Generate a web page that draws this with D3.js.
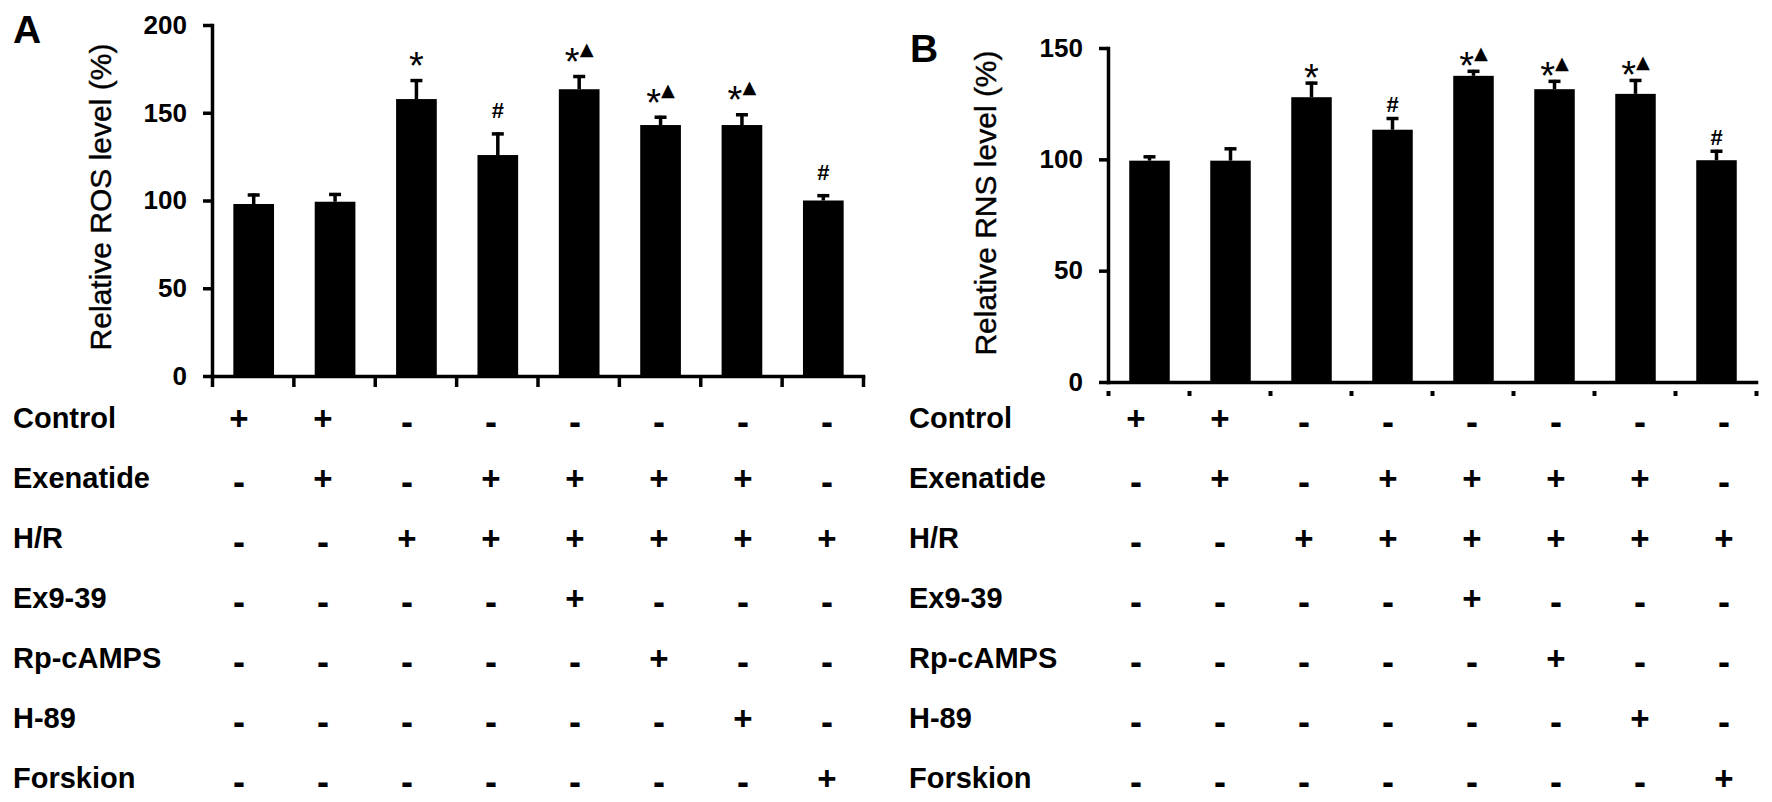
<!DOCTYPE html>
<html>
<head>
<meta charset="utf-8">
<script src="https://cdn.jsdelivr.net/npm/d3@7/dist/d3.min.js"></script>
<style>
  body { margin: 0; background: #fff; }
  svg { display: block; font-family: "Liberation Sans", Arial, sans-serif; }
</style>
</head>
<body>
<svg id="chart" width="1772" height="802"></svg>
<script>
// groups 1..8, treatment design shared by both panels
const groups = ["g1", "g2", "g3", "g4", "g5", "g6", "g7", "g8"];
const treatments = ["Control", "Exenatide", "H/R", "Ex9-39", "Rp-cAMPS", "H-89", "Forskion"];
const design = [
  ["+", "+", "-", "-", "-", "-", "-", "-"],
  ["-", "+", "-", "+", "+", "+", "+", "-"],
  ["-", "-", "+", "+", "+", "+", "+", "+"],
  ["-", "-", "-", "-", "+", "-", "-", "-"],
  ["-", "-", "-", "-", "-", "+", "-", "-"],
  ["-", "-", "-", "-", "-", "-", "+", "-"],
  ["-", "-", "-", "-", "-", "-", "-", "+"]
];

// panel A: ROS
const rosMean = [98, 99.3, 157.8, 125.9, 163.4, 143, 143, 100];
const rosErr = [6, 5, 11.4, 12.9, 8.1, 5.3, 6.7, 3.6];
const rosMarks = ["", "", "*", "#", "*▲", "*▲", "*▲", "#"];
const rosTicks = [0, 50, 100, 150, 200];

// panel B: RNS
const rnsMean = [99.4, 99.4, 127.9, 113.3, 137.5, 131.5, 129.4, 99.6];
const rnsErr = [2.4, 6, 7, 5.7, 2.7, 4.2, 6.7, 4.7];
const rnsMarks = ["", "", "*", "#", "*▲", "*▲", "*▲", "#"];
const rnsTicks = [0, 50, 100, 150];

const svg = d3.select("#chart");

const panels = [
  {
    letter: "A", letterX: 13, letterY: 43,
    title: "Relative ROS level (%)", titleX: 100, titleY: 197,
    left: 212, right: 863, top: 25, bottom: 376,
    mean: rosMean, err: rosErr, marks: rosMarks, ticks: rosTicks,
    markGap: 22, xTickStyle: "line",
    labelX: 13, tableLeft: 239, tableRight: 827
  },
  {
    letter: "B", letterX: 910, letterY: 62,
    title: "Relative RNS level (%)", titleX: 985, titleY: 203,
    left: 1108, right: 1756, top: 48, bottom: 382,
    mean: rnsMean, err: rnsErr, marks: rnsMarks, ticks: rnsTicks,
    markGap: 13, xTickStyle: "dot",
    labelX: 909, tableLeft: 1136, tableRight: 1724
  }
];

const rowY = d3.scalePoint().domain(treatments).range([418, 778]);

function drawPanel(p) {
  const g = svg.append("g");

  const x = d3.scaleBand()
    .domain(groups)
    .range([p.left, p.right])
    .paddingInner(0.5)
    .paddingOuter(0.25);

  const y = d3.scaleLinear()
    .domain([0, d3.max(p.ticks)])
    .range([p.bottom, p.top]);

  // bars
  g.selectAll("rect.bar")
    .data(groups)
    .join("rect")
    .attr("class", "bar")
    .attr("x", d => x(d) + 1)
    .attr("width", x.bandwidth())
    .attr("y", (d, i) => y(p.mean[i]))
    .attr("height", (d, i) => y(0) - y(p.mean[i]))
    .attr("fill", "#000");

  const cx = d => x(d) + 1 + x.bandwidth() / 2;

  // error bars (upper only)
  const eb = g.selectAll("g.err")
    .data(groups)
    .join("g")
    .attr("class", "err");
  eb.append("line")
    .attr("x1", cx)
    .attr("x2", cx)
    .attr("y1", (d, i) => y(p.mean[i]))
    .attr("y2", (d, i) => y(p.mean[i] + p.err[i]))
    .attr("stroke", "#000")
    .attr("stroke-width", 3.5);
  eb.append("line")
    .attr("x1", d => cx(d) - 6)
    .attr("x2", d => cx(d) + 6)
    .attr("y1", (d, i) => y(p.mean[i] + p.err[i]) + 1.5)
    .attr("y2", (d, i) => y(p.mean[i] + p.err[i]) + 1.5)
    .attr("stroke", "#000")
    .attr("stroke-width", 3.5);

  // significance marks
  const mk = g.selectAll("text.mark")
    .data(groups)
    .join("text")
    .attr("class", "mark")
    .attr("text-anchor", "middle")
    .attr("x", cx)
    .attr("y", (d, i) => y(p.mean[i] + p.err[i]) - p.markGap);
  mk.each(function (d, i) {
    const t = d3.select(this);
    const m = p.marks[i];
    if (m.includes("*")) {
      t.append("tspan").attr("font-size", 38).attr("dy", 22).text("*");
      if (m.includes("▲")) {
        t.append("tspan")
          .attr("font-family", "DejaVu Sans")
          .attr("font-size", 18)
          .attr("dy", -20)
          .text("▲");
      }
    } else if (m === "#") {
      t.append("tspan").attr("font-size", 22).attr("font-weight", "bold").attr("dy", 8).text("#");
    }
  });

  // y axis
  const yAxis = g.append("g")
    .attr("transform", `translate(${p.left},0)`)
    .call(d3.axisLeft(y).tickValues(p.ticks).tickSize(9).tickPadding(16).tickSizeOuter(0));
  yAxis.select(".domain").attr("stroke-width", 3.5).attr("stroke-linecap", "square");
  yAxis.selectAll(".tick line").attr("stroke-width", 3.5);
  yAxis.selectAll(".tick text")
    .attr("font-size", 26)
    .attr("font-weight", "bold")
    .attr("font-family", "Liberation Sans, Arial, sans-serif")
    .attr("fill", "#000");

  // x axis, ticks at boundaries between bars
  const xb = d3.scaleLinear().domain([0, groups.length]).range([p.left, p.right]);
  const xAxis = g.append("g")
    .attr("transform", `translate(0,${p.bottom})`)
    .call(d3.axisBottom(xb).tickValues(d3.range(groups.length + 1)).tickFormat("")
      .tickSize(p.xTickStyle === "line" ? 11 : 14).tickSizeOuter(0));
  xAxis.select(".domain").attr("stroke-width", 3.5).attr("stroke-linecap", "square");
  xAxis.selectAll(".tick line").attr("stroke-width", p.xTickStyle === "line" ? 3.5 : 4);
  if (p.xTickStyle === "dot") xAxis.selectAll(".tick line").attr("y1", 9);

  // y title
  g.append("text")
    .attr("transform", `translate(${p.titleX},${p.titleY}) rotate(-90)`)
    .attr("text-anchor", "middle")
    .attr("dy", "0.35em")
    .attr("font-size", 30)
    .attr("fill", "#000")
    .attr("stroke", "#000")
    .attr("stroke-width", 0.4)
    .text(p.title);

  // panel letter
  g.append("text")
    .attr("x", p.letterX)
    .attr("y", p.letterY)
    .attr("font-size", 39)
    .attr("font-weight", "bold")
    .text(p.letter);

  // treatment table
  const colX = d3.scalePoint().domain(groups).range([p.tableLeft, p.tableRight]);
  g.selectAll("text.rowlabel")
    .data(treatments)
    .join("text")
    .attr("class", "rowlabel")
    .attr("x", p.labelX)
    .attr("y", d => rowY(d) + 10)
    .attr("font-size", 29)
    .attr("font-weight", "bold")
    .text(d => d);

  const cells = design.flatMap((row, r) =>
    row.map((v, c) => ({ t: treatments[r], gname: groups[c], v })));
  g.selectAll("text.cell")
    .data(cells)
    .join("text")
    .attr("class", "cell")
    .attr("text-anchor", "middle")
    .attr("x", d => colX(d.gname))
    .attr("y", d => rowY(d.t) + (d.v === "+" ? 12 : 16))
    .attr("font-size", d => d.v === "+" ? 33 : 36)
    .attr("font-weight", "bold")
    .text(d => d.v);
}

panels.forEach(drawPanel);
</script>
</body>
</html>
